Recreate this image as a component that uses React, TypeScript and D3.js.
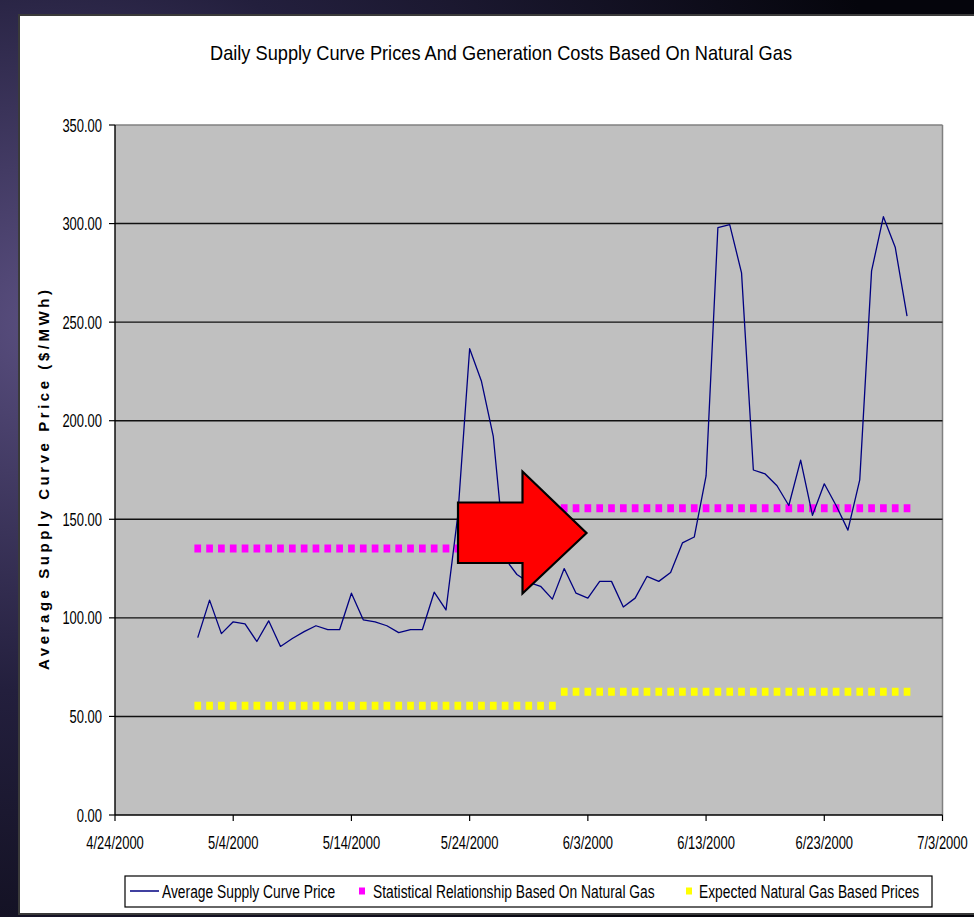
import React from "react";
import * as d3 from "d3";

// ---- data ----
const startDate = "2000-05-01";
const avgSupplyPrice = [
  90, 109, 92, 98, 97, 88, 98.5, 85.5, 89.5, 93, 96, 94, 94, 112.5, 99, 98, 96, 92.5, 94, 94,
  113, 104, 152, 236.5, 220, 192, 130, 122, 118, 116, 109.5,
  125, 112.5, 110, 118.5, 118.5, 105.5, 110, 121, 118.5, 123, 138, 141, 172, 298, 299.5, 275,
  175, 173, 167, 157, 180, 152, 168, 157, 144.5, 170, 276, 303.5, 288, 253,
];
// step series: [first day, last day, value]
const statSegments: [string, string, number][] = [
  ["2000-05-01", "2000-05-31", 135.2],
  ["2000-06-01", "2000-06-30", 155.6],
];
const expectedSegments: [string, string, number][] = [
  ["2000-05-01", "2000-05-31", 55.4],
  ["2000-06-01", "2000-06-30", 62.5],
];
const xTickLabels = ["4/24/2000", "5/4/2000", "5/14/2000", "5/24/2000", "6/3/2000", "6/13/2000", "6/23/2000", "7/3/2000"];
const yTicks = [0, 50, 100, 150, 200, 250, 300, 350];
const seriesNames = [
  "Average Supply Curve Price",
  "Statistical Relationship Based On Natural Gas",
  "Expected Natural Gas Based Prices",
];
const title = "Daily Supply Curve Prices And Generation Costs Based On Natural Gas";
const yTitle = "Average Supply Curve Price ($/MWh)";

const SANS = "'Liberation Sans', Arial, sans-serif";
const NARROW_X = 0.7;
const LEGEND_X = 0.79;

const parseIso = (s: string) => {
  const [y, m, d] = s.split("-").map(Number);
  return new Date(Date.UTC(y, m - 1, d));
};
const parseUS = (s: string) => {
  const [m, d, y] = s.split("/").map(Number);
  return new Date(Date.UTC(y, m - 1, d));
};

export default function App() {
  const W = 974, H = 917;
  const plot = { left: 115, right: 942.5, top: 125, bottom: 815 };
  const xTicks = xTickLabels.map(parseUS);
  const x = d3.scaleUtc().domain([xTicks[0], xTicks[xTicks.length - 1]]).range([plot.left, plot.right]);
  const y = d3.scaleLinear().domain([0, 350]).range([plot.bottom, plot.top]);
  const start = parseIso(startDate);
  const pts = avgSupplyPrice.map((v, i) => ({ date: d3.utcDay.offset(start, i), v }));
  const line = d3.line<{ date: Date; v: number }>().x((d) => x(d.date)).y((d) => y(d.v));
  const daySpan = x(d3.utcDay.offset(xTicks[0], 1)) - x(xTicks[0]);
  const dash = 6.7;
  const fmt = d3.format(".2f");

  const dotted = (segs: [string, string, number][], color: string, key: string) =>
    segs.map(([a, b, v], i) => {
      const x0 = x(parseIso(a)) - dash / 2;
      const x1 = x(parseIso(b)) + dash / 2;
      return (
        <line
          key={key + i}
          x1={x0}
          x2={x1}
          y1={y(v)}
          y2={y(v)}
          stroke={color}
          strokeWidth={8}
          strokeDasharray={`${dash} ${daySpan - dash}`}
        />
      );
    });

  const arrow: [number, number][] = [
    [458, 502.5], [522.5, 502.5], [522.5, 471.5], [586.5, 533], [522.5, 593.5], [522.5, 563], [458, 563],
  ];

  const legendText = (tx: number, s: string) => (
    <text transform={`translate(${tx},897.5) scale(${LEGEND_X},1)`} fontFamily={SANS} fontSize={17.5} fill="#000">
      {s}
    </text>
  );

  return (
    <svg width={W} height={H} style={{ position: "absolute", left: 0, top: 0 }} xmlns="http://www.w3.org/2000/svg">
      <defs>
        <radialGradient id="space" cx="0.05" cy="0.35" r="0.9">
          <stop offset="0" stopColor="#5a4f80" />
          <stop offset="0.45" stopColor="#231f3d" />
          <stop offset="1" stopColor="#05050c" />
        </radialGradient>
      </defs>
      <rect x={0} y={0} width={W} height={H} fill="url(#space)" />
      {/* chart panel */}
      <rect x={19} y={15} width={W} height={899} fill="#ffffff" stroke="#3a3a3a" strokeWidth={2} />

      {/* title */}
      <text x={501} y={60} textAnchor="middle" fontFamily={SANS} fontSize={21} fill="#000" textLength={582} lengthAdjust="spacingAndGlyphs">
        {title}
      </text>

      {/* plot area */}
      <rect x={plot.left} y={plot.top} width={plot.right - plot.left} height={plot.bottom - plot.top} fill="#c0c0c0" />
      <line x1={plot.left} x2={plot.right} y1={plot.top} y2={plot.top} stroke="#808080" strokeWidth={1.5} />
      <line x1={plot.right} x2={plot.right} y1={plot.top} y2={plot.bottom} stroke="#808080" strokeWidth={1.5} />
      {yTicks.filter((t) => t > 0 && t < 350).map((t) => (
        <line key={"g" + t} x1={plot.left} x2={plot.right} y1={y(t)} y2={y(t)} stroke="#111" strokeWidth={1.4} />
      ))}

      {/* series */}
      {dotted(expectedSegments, "#ffff00", "e")}
      {dotted(statSegments, "#ff00ff", "s")}
      <path d={line(pts) || ""} fill="none" stroke="#000080" strokeWidth={1.3} strokeLinejoin="round" />

      {/* axes */}
      <line x1={plot.left} x2={plot.left} y1={plot.top} y2={plot.bottom} stroke="#000" strokeWidth={1.4} />
      <line x1={plot.left} x2={plot.right} y1={plot.bottom} y2={plot.bottom} stroke="#000" strokeWidth={1.4} />
      {yTicks.map((t) => (
        <g key={"y" + t}>
          <line x1={plot.left - 6} x2={plot.left} y1={y(t)} y2={y(t)} stroke="#000" strokeWidth={1.2} />
          <text transform={`translate(102,${y(t) + 6.5}) scale(${NARROW_X},1)`} textAnchor="end" fontFamily={SANS} fontSize={18.5} fill="#000">
            {fmt(t)}
          </text>
        </g>
      ))}
      {xTicks.map((t, i) => (
        <g key={"x" + i}>
          <line x1={x(t)} x2={x(t)} y1={plot.bottom} y2={plot.bottom + 6} stroke="#000" strokeWidth={1.2} />
          <text transform={`translate(${x(t)},849) scale(${NARROW_X},1)`} textAnchor="middle" fontFamily={SANS} fontSize={18.5} fill="#000">
            {xTickLabels[i]}
          </text>
        </g>
      ))}
      <text
        transform={`translate(49,480) rotate(-90)`}
        textAnchor="middle"
        fontFamily={SANS}
        fontWeight="bold"
        fontSize={15}
        fill="#000"
        textLength={380}
        lengthAdjust="spacing"
      >
        {yTitle}
      </text>

      {/* arrow annotation */}
      <polygon points={arrow.map((p) => p.join(",")).join(" ")} fill="#ff0000" stroke="#000" strokeWidth={2.2} strokeLinejoin="miter" />

      {/* legend */}
      <rect x={125} y={876} width={807} height={31} fill="#fff" stroke="#000" strokeWidth={1.2} />
      <line x1={130} x2={159} y1={891} y2={891} stroke="#000080" strokeWidth={1.5} />
      {legendText(162, seriesNames[0])}
      <rect x={359} y={887.5} width={6} height={7} fill="#ff00ff" />
      {legendText(373, seriesNames[1])}
      <rect x={686} y={887.5} width={6} height={7} fill="#ffff00" />
      {legendText(699, seriesNames[2])}
    </svg>
  );
}
